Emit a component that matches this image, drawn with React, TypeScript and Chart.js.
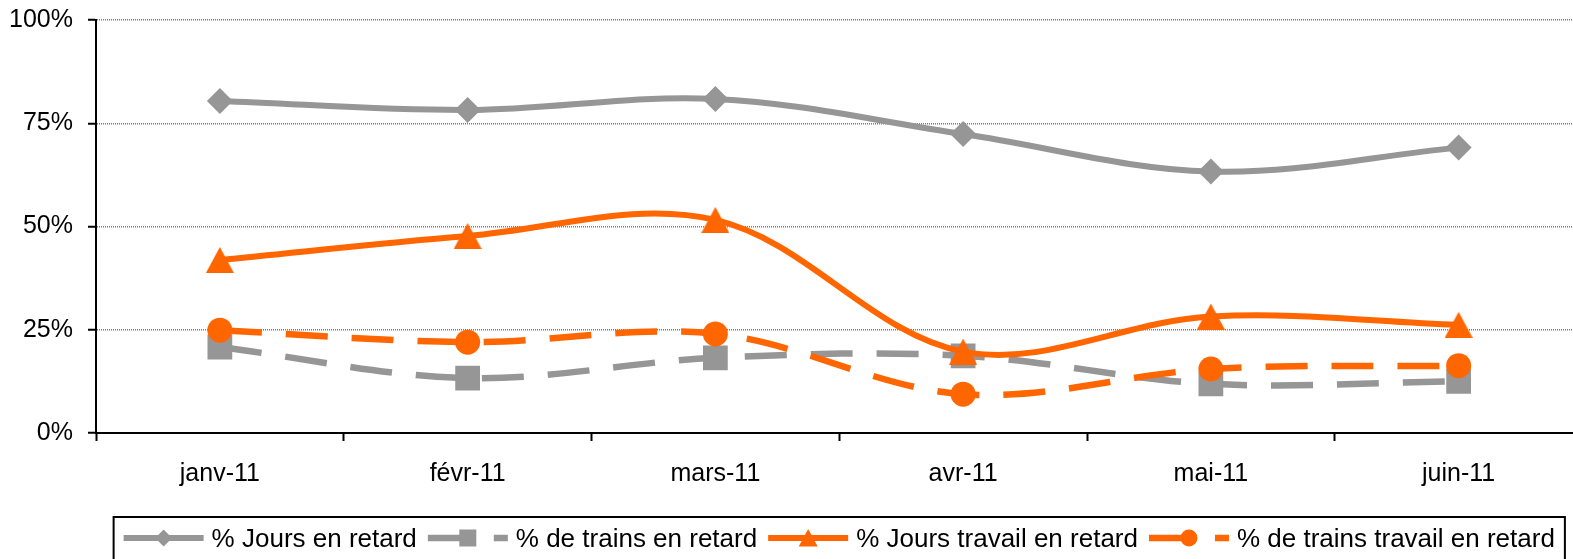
import React, { useEffect, useRef } from 'react';
import { Chart, registerables } from 'chart.js';

Chart.register(...registerables);

const categories = ['janv-11', 'févr-11', 'mars-11', 'avr-11', 'mai-11', 'juin-11'];
const joursRetard = [80.4, 78.2, 80.9, 72.4, 63.3, 69.1];
const trainsRetard = [20.8, 13.3, 18.2, 18.7, 11.9, 12.5];
const joursTravailRetard = [41.9, 47.7, 51.6, 19.7, 28.2, 26.2];
const trainsTravailRetard = [24.9, 22.0, 24.0, 9.4, 15.5, 16.3];
const yTicks = [0, 25, 50, 75, 100];
const seriesLabels = [
  '% Jours en retard',
  '% de trains en retard',
  '% Jours travail en retard',
  '% de trains travail en retard',
];

const GREY = '#969696';
const ORANGE = '#FF6600';
const FONT = "'Liberation Sans', Arial, Helvetica, sans-serif";
const DASH = [42, 24];

type Marker = 'diamond' | 'square' | 'triangle' | 'circle';
const legendStyles: { color: string; width: number; dash: number[]; marker: Marker }[] = [
  { color: GREY, width: 6, dash: [], marker: 'diamond' },
  { color: GREY, width: 6.5, dash: DASH, marker: 'square' },
  { color: ORANGE, width: 6, dash: [], marker: 'triangle' },
  { color: ORANGE, width: 6.5, dash: DASH, marker: 'circle' },
];

function drawMarker(ctx: CanvasRenderingContext2D, m: Marker, x: number, y: number, color: string) {
  ctx.fillStyle = color;
  ctx.beginPath();
  if (m === 'diamond') {
    ctx.moveTo(x, y - 8.5);
    ctx.lineTo(x + 8.5, y);
    ctx.lineTo(x, y + 8.5);
    ctx.lineTo(x - 8.5, y);
    ctx.closePath();
  } else if (m === 'square') {
    ctx.rect(x - 8.5, y - 8.5, 17, 17);
  } else if (m === 'triangle') {
    ctx.moveTo(x, y - 9);
    ctx.lineTo(x + 9.5, y + 8.5);
    ctx.lineTo(x - 9.5, y + 8.5);
    ctx.closePath();
  } else {
    ctx.arc(x, y, 8.5, 0, Math.PI * 2);
  }
  ctx.fill();
}

const legendPlugin = {
  id: 'customLegend',
  afterDraw(chart: any) {
    const ctx: CanvasRenderingContext2D = chart.ctx;
    const area = chart.chartArea;
    ctx.save();
    ctx.font = `26px ${FONT}`;
    const sample = 80;
    const gapText = 8;
    const gapItem = 11;
    const widths = seriesLabels.map((l) => ctx.measureText(l).width);
    const total = widths.reduce((a, w) => a + sample + gapText + w, 0) + gapItem * (seriesLabels.length - 1);
    const boxW = total + 20;
    const cx = (area.left + area.right) / 2;
    const boxX = cx - boxW / 2;
    const boxY = 517;
    ctx.lineWidth = 2;
    ctx.strokeStyle = '#000';
    ctx.strokeRect(boxX, boxY, boxW, 80);
    let x = boxX + 10;
    const y = 538;
    legendStyles.forEach((s, i) => {
      ctx.strokeStyle = s.color;
      ctx.lineWidth = s.width;
      ctx.lineCap = 'butt';
      ctx.setLineDash(s.dash);
      ctx.beginPath();
      ctx.moveTo(x, y);
      ctx.lineTo(x + sample, y);
      ctx.stroke();
      ctx.setLineDash([]);
      drawMarker(ctx, s.marker, x + sample / 2, y, s.color);
      ctx.fillStyle = '#000';
      ctx.textAlign = 'left';
      ctx.textBaseline = 'middle';
      ctx.fillText(seriesLabels[i], x + sample + gapText, y + 2);
      x += sample + gapText + widths[i] + gapItem;
    });
    ctx.restore();
  },
};

function makeTriangle(color: string): HTMLCanvasElement {
  const c = document.createElement('canvas');
  c.width = 28;
  c.height = 26;
  const g = c.getContext('2d')!;
  g.fillStyle = color;
  g.beginPath();
  g.moveTo(14, 0);
  g.lineTo(28, 26);
  g.lineTo(0, 26);
  g.closePath();
  g.fill();
  return c;
}

export default function App() {
  const ref = useRef<HTMLCanvasElement | null>(null);

  useEffect(() => {
    if (!ref.current) return;
    const tri = makeTriangle(ORANGE);
    const common = {
      tension: 0.35,
      borderCapStyle: 'butt' as const,
      borderJoinStyle: 'round' as const,
      pointBorderWidth: 0,
      pointHoverRadius: 0,
    };
    const chart = new Chart(ref.current, {
      type: 'line',
      data: {
        labels: categories,
        datasets: [
          {
            ...common,
            label: seriesLabels[0],
            data: joursRetard,
            borderColor: GREY,
            backgroundColor: GREY,
            borderWidth: 6,
            pointStyle: 'rectRot',
            pointRadius: 13,
            pointBackgroundColor: GREY,
            pointBorderColor: GREY,
            order: 4,
          },
          {
            ...common,
            label: seriesLabels[1],
            data: trainsRetard,
            borderColor: GREY,
            backgroundColor: GREY,
            borderWidth: 6.5,
            borderDash: DASH,
            pointStyle: 'rect',
            pointRadius: 17.5,
            pointBackgroundColor: GREY,
            pointBorderColor: GREY,
            order: 3,
          },
          {
            ...common,
            label: seriesLabels[2],
            data: joursTravailRetard,
            borderColor: ORANGE,
            backgroundColor: ORANGE,
            borderWidth: 6,
            pointStyle: tri as any,
            pointRadius: 14,
            pointBackgroundColor: ORANGE,
            pointBorderColor: ORANGE,
            order: 2,
          },
          {
            ...common,
            label: seriesLabels[3],
            data: trainsTravailRetard,
            borderColor: ORANGE,
            backgroundColor: ORANGE,
            borderWidth: 6.5,
            borderDash: DASH,
            pointStyle: 'circle',
            pointRadius: 12.5,
            pointBackgroundColor: ORANGE,
            pointBorderColor: ORANGE,
            order: 1,
          },
        ],
      },
      options: {
        animation: false,
        responsive: false,
        maintainAspectRatio: false,
        devicePixelRatio: 1,
        events: [],
        layout: { padding: { top: 20, left: 0, right: 14, bottom: 0 } },
        plugins: {
          legend: { display: false },
          tooltip: { enabled: false },
          title: { display: false },
        },
        scales: {
          x: {
            offset: true,
            grid: {
              offset: true,
              drawOnChartArea: false,
              drawTicks: true,
              tickLength: 8,
              tickColor: '#000',
              tickWidth: 2,
              color: '#000',
            },
            border: { display: true, color: '#000', width: 2 },
            ticks: {
              color: '#000',
              padding: 18,
              maxRotation: 0,
              autoSkip: false,
              font: { family: FONT, size: 25 },
            },
            afterFit: (scale: any) => {
              scale.height = 126;
              scale.paddingTop = 0;
              scale.paddingBottom = 0;
            },
          },
          y: {
            min: 0,
            max: 100,
            afterBuildTicks: (scale: any) => {
              scale.ticks = yTicks.map((v) => ({ value: v }));
            },
            grid: {
              color: '#7a7a7a',
              lineWidth: 1.5,
              drawTicks: true,
              tickLength: 8,
              tickColor: '#000',
              tickWidth: 2,
              tickBorderDash: [],
            },
            border: { display: true, color: '#000', width: 2, dash: [1, 1] },
            ticks: {
              color: '#000',
              padding: 15,
              font: { family: FONT, size: 25 },
              callback: (v: any) => `${v}%`,
            },
            afterFit: (scale: any) => {
              scale.width = 96;
              scale.paddingTop = 0;
              scale.paddingBottom = 0;
            },
          },
        },
      },
      plugins: [legendPlugin],
    });
    return () => chart.destroy();
  }, []);

  return (
    <div
      style={{
        position: 'fixed',
        left: 0,
        top: 0,
        width: '1573px',
        height: '559px',
        overflow: 'hidden',
        background: '#fff',
      }}
    >
      <canvas ref={ref} width={1600} height={559} style={{ display: 'block', width: '1600px', height: '559px' }} />
    </div>
  );
}
